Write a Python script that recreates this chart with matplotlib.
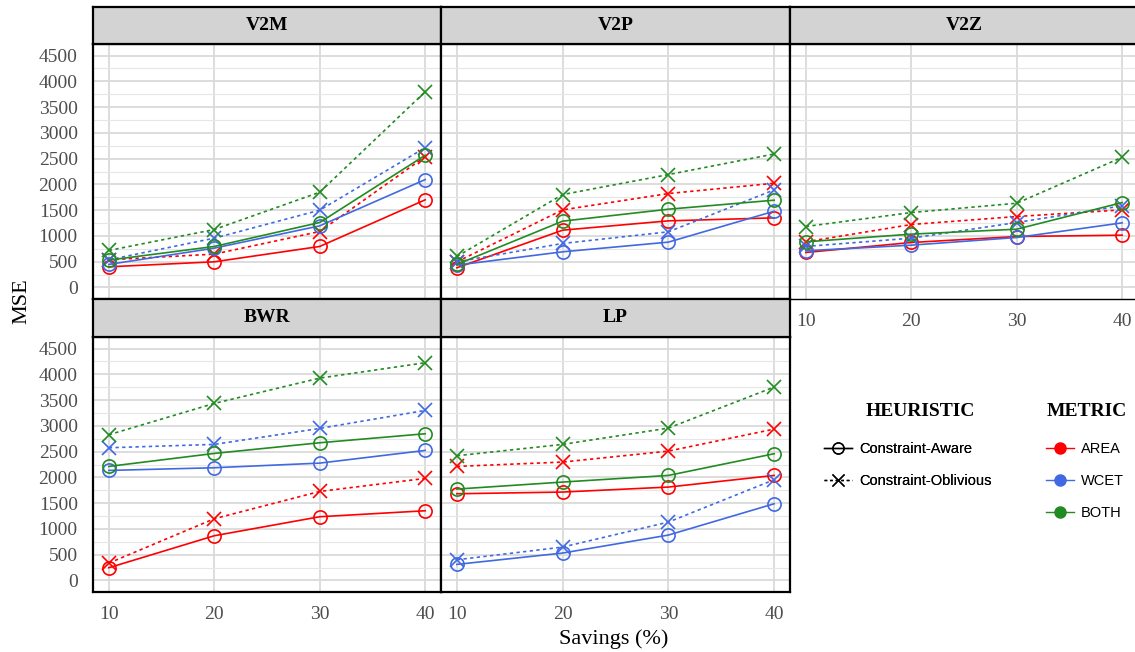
import matplotlib.pyplot as plt
from matplotlib.lines import Line2D
import numpy as np

# savings levels on the x axis
savings = [10, 20, 30, 40]
benchmarks = ['V2M', 'V2P', 'V2Z', 'BWR', 'LP']
metrics = ['AREA', 'WCET', 'BOTH']
heuristics = ['Constraint-Aware', 'Constraint-Oblivious']

# MSE values, rows = AREA, WCET, BOTH
v2m_aware = [[400, 497, 795, 1700], [446, 762, 1195, 2093], [530, 795, 1260, 2565]]
v2m_oblivious = [[536, 646, 1085, 2540], [536, 956, 1499, 2713], [717, 1124, 1848, 3798]]
v2p_aware = [[381, 1111, 1292, 1350], [433, 691, 879, 1479], [446, 1286, 1518, 1693]]
v2p_oblivious = [[497, 1505, 1822, 2022], [497, 853, 1079, 1893], [601, 1802, 2190, 2590]]
v2z_aware = [[678, 872, 988, 1014], [711, 820, 969, 1253], [885, 1034, 1130, 1647]]
v2z_oblivious = [[885, 1221, 1376, 1505], [795, 956, 1260, 1583], [1182, 1453, 1634, 2526]]
bwr_aware = [[246, 867, 1236, 1352], [2135, 2187, 2277, 2523], [2213, 2465, 2672, 2847]]
bwr_oblivious = [[336, 1197, 1727, 1980], [2575, 2640, 2950, 3300], [2827, 3436, 3927, 4225]]
lp_aware = [[1682, 1715, 1812, 2038], [311, 531, 880, 1488], [1773, 1909, 2038, 2459]]
lp_oblivious = [[2213, 2297, 2510, 2937], [401, 647, 1132, 1954], [2420, 2640, 2957, 3753]]

aware = [v2m_aware, v2p_aware, v2z_aware, bwr_aware, lp_aware]
oblivious = [v2m_oblivious, v2p_oblivious, v2z_oblivious, bwr_oblivious, lp_oblivious]

colors = ['#FF0000', '#4169E1', '#228B22']
yticks = np.arange(0, 4501, 500)

W, H = 1135, 652
fig = plt.figure(figsize=(W / 100, H / 100), dpi=100)

serif = 'Liberation Serif'
sans = 'Liberation Sans'

col_x = [93, 441, 790]
col_w = [348, 349, 348]
row_panel = [(44, 299), (337, 592)]
row_strip = [(7, 44), (299, 337)]

def fig_rect(x0, y0, w, h):
    return [x0 / W, 1 - (y0 + h) / H, w / W, h / H]

for i, name in enumerate(benchmarks):
    r, c = divmod(i, 3)
    top, bot = row_panel[r]
    ax = fig.add_axes(fig_rect(col_x[c], top, col_w[c], bot - top))
    for k in range(3):
        ax.plot(savings, aware[i][k], color=colors[k], lw=1.2, marker='o',
                mfc='none', mec=colors[k], ms=9.5, mew=1.2, zorder=3)
        ax.plot(savings, oblivious[i][k], color=colors[k], lw=1.2, ls=(0, (2, 2)),
                marker='x', ms=9.5, mew=1.2, zorder=3)
    ax.set_xlim(8.5, 41.5)
    ax.set_ylim(-225, 4725)
    ax.set_xticks(savings)
    ax.set_yticks(yticks)
    ax.set_yticks(np.arange(250, 4500, 500), minor=True)
    ax.grid(True, which='major', color='#DADADA', lw=1.3)
    ax.grid(True, which='minor', axis='y', color='#E6E6E6', lw=0.8)
    ax.set_axisbelow(True)
    ax.tick_params(which='both', length=0, labelsize=14, labelcolor='#4D4D4D')
    ax.tick_params(axis='y', pad=11)
    ax.tick_params(axis='x', pad=10)
    for lab in ax.get_xticklabels() + ax.get_yticklabels():
        lab.set_family(serif)
    if c != 0:
        ax.set_yticklabels([])
    if r == 0 and c != 2:
        ax.set_xticklabels([])
    for sp in ax.spines.values():
        sp.set_color('black')
        sp.set_linewidth(1.6)
    if name == 'V2Z':
        ax.spines['bottom'].set_linewidth(1.0)

    # facet strip
    s0, s1 = row_strip[r]
    sax = fig.add_axes(fig_rect(col_x[c], s0, col_w[c], s1 - s0))
    sax.set_facecolor('#D3D3D3')
    sax.set_xticks([])
    sax.set_yticks([])
    for sp in sax.spines.values():
        sp.set_color('black')
        sp.set_linewidth(1.6)
    sax.text(0.5, 0.5, name, ha='center', va='center', fontsize=14,
             fontweight='bold', family=serif, transform=sax.transAxes)

fig.text(22 / W, 1 - 301 / H, 'MSE', rotation=90, ha='center', va='center',
         fontsize=16, family=serif)
fig.text(614 / W, 1 - 639 / H, 'Savings (%)', ha='center', va='center',
         fontsize=16, family=serif)

# legends (titles placed separately)
heur_handles = [
    Line2D([], [], color='black', lw=1.0, marker='o', mfc='none', ms=8, mew=1.0),
    Line2D([], [], color='black', lw=1.0, ls=(0, (2, 2)), marker='x', ms=8, mew=1.0),
]
metric_handles = [Line2D([], [], color=col, lw=1.0, marker='o', ms=8) for col in colors]

legend_kw = dict(loc='upper left', frameon=False, handlelength=1.9, handletextpad=0.5,
                 labelspacing=1.25, borderaxespad=0, prop={'family': sans, 'size': 10.5})
leg1 = fig.legend(heur_handles, heuristics, bbox_to_anchor=(818 / W, 1 - 436 / H), **legend_kw)
leg2 = fig.legend(metric_handles, metrics, bbox_to_anchor=(1040 / W, 1 - 436 / H), **legend_kw)
fig.add_artist(leg1)

fig.text(920 / W, 1 - 411 / H, 'HEURISTIC', ha='center', va='center',
         fontsize=14, fontweight='bold', family=serif)
fig.text(1087 / W, 1 - 411 / H, 'METRIC', ha='center', va='center',
         fontsize=14, fontweight='bold', family=serif)

fig.savefig('out.png', dpi=100)
